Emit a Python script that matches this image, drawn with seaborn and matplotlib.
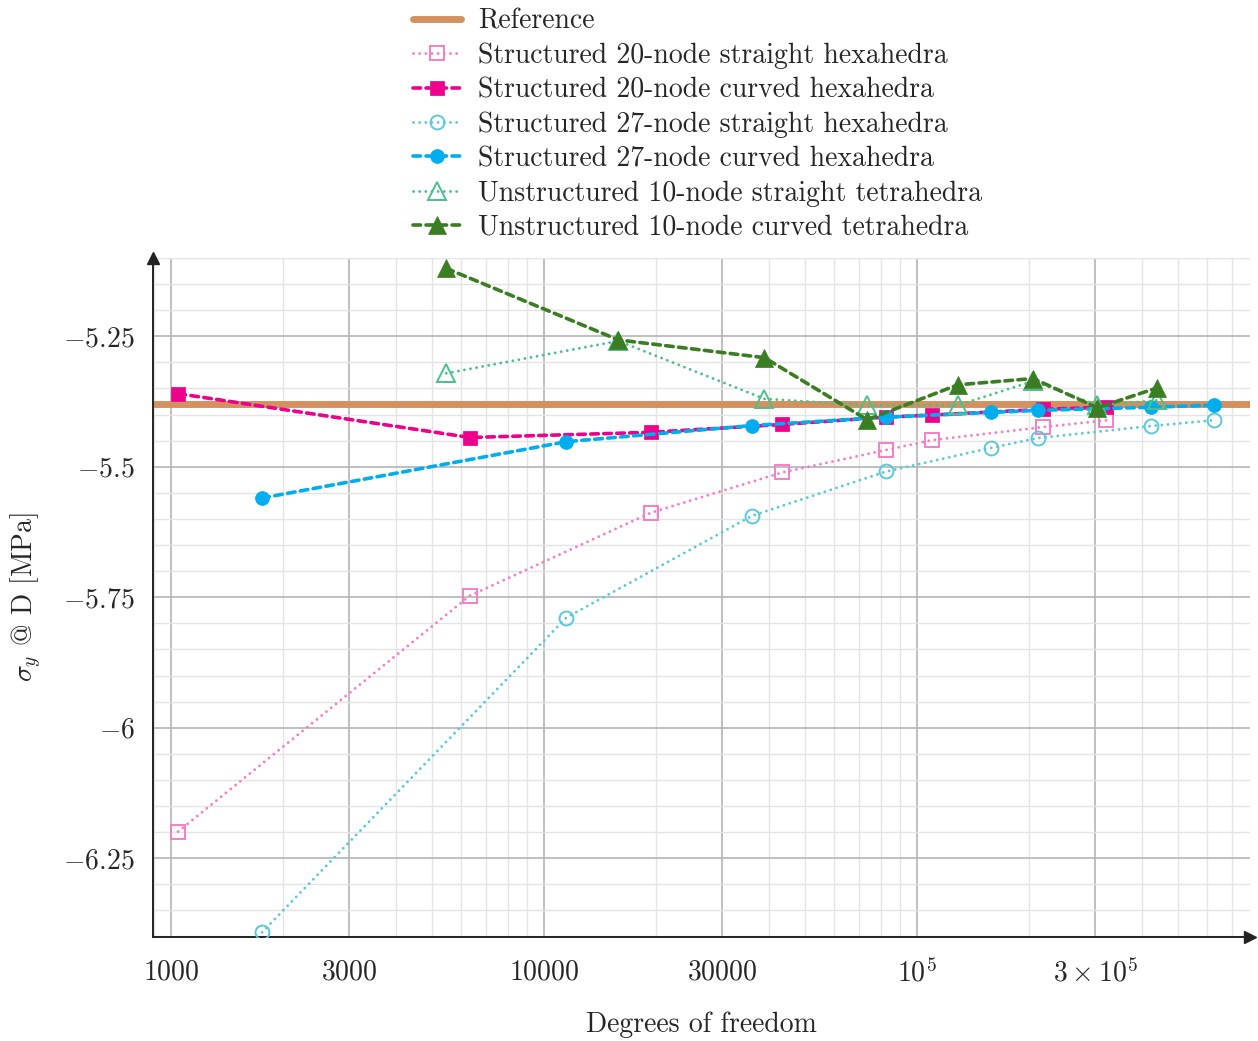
import numpy as np
import pandas as pd
import matplotlib
matplotlib.use("Agg")
import matplotlib.pyplot as plt
import matplotlib.ticker as mticker
import seaborn as sns

## Data
reference_value = -5.380

dof_hex20 = [1045, 6330, 19360, 43450, 82400, 109500, 217700, 321300]
hex20_straight = [-6.199, -5.747, -5.588, -5.511, -5.468, -5.449, -5.424, -5.411]
hex20_curved = [-5.360, -5.444, -5.434, -5.419, -5.405, -5.401, -5.390, -5.386]

dof_hex27 = [1754, 11480, 36100, 82700, 157700, 210700, 423300, 623000]
hex27_straight = [-6.392, -5.789, -5.594, -5.509, -5.464, -5.445, -5.422, -5.411]
hex27_curved = [-5.560, -5.452, -5.421, -5.405, -5.396, -5.392, -5.386, -5.382]

dof_tet10 = [5470, 15820, 38980, 73460, 128600, 204700, 304300, 439300]
tet10_straight = [-5.321, -5.259, -5.370, -5.382, -5.382, -5.336, -5.382, -5.373]
tet10_curved = [-5.120, -5.257, -5.291, -5.410, -5.343, -5.331, -5.387, -5.349]

labels = ["Reference",
          "Structured 20-node straight hexahedra",
          "Structured 20-node curved hexahedra",
          "Structured 27-node straight hexahedra",
          "Structured 27-node curved hexahedra",
          "Unstructured 10-node straight tetrahedra",
          "Unstructured 10-node curved tetrahedra"]

sns.set_style("white")
plt.rcParams['font.family'] = ['cmr10', 'DejaVu Serif']
plt.rcParams['mathtext.fontset'] = 'cm'
plt.rcParams['axes.unicode_minus'] = True
plt.rcParams['font.size'] = 20

fig = plt.figure(figsize=(12.58, 10.41), dpi=100)
ax = fig.add_axes([0.1216, 0.0999, 0.8720, 0.6523])

dotted = (0, (0.01, 2.1))
dashed = (0, (2.1, 1.5))

## Reference line
ax.axhline(reference_value, color="#D5905F", lw=5, zorder=2, label=labels[0])

series = [
    (dof_hex20, hex20_straight, labels[1], "#F57EC6", "s", False, dotted, 2.1),
    (dof_hex20, hex20_curved, labels[2], "#EC008C", "s", True, dashed, 2.6),
    (dof_hex27, hex27_straight, labels[3], "#5CC8DC", "o", False, dotted, 2.1),
    (dof_hex27, hex27_curved, labels[4], "#00AEEF", "o", True, dashed, 2.6),
    (dof_tet10, tet10_straight, labels[5], "#4CBF8C", "^", False, dotted, 2.1),
    (dof_tet10, tet10_curved, labels[6], "#3A7D22", "^", True, dashed, 2.6),
]

for x, y, lab, col, mk, filled, ls, lw in series:
    df = pd.DataFrame({"dof": x, "sigma": y})
    msize = 12.5 if mk == "^" else 10
    sns.lineplot(data=df, x="dof", y="sigma", ax=ax, label=lab, color=col,
                 linestyle=ls, lw=lw, marker=mk, markersize=msize,
                 markerfacecolor=col if filled else "none",
                 markeredgecolor=col, markeredgewidth=1.4 if not filled else 0.5,
                 dash_capstyle="round", zorder=3, sort=False)

ax.set_xscale("log")
ax.set_xlim(895, 7.8e5)
ax.set_ylim(-6.401, -5.10)

## Ticks
xmaj = [1000, 3000, 10000, 30000, 1e5, 3e5]
xmaj_labels = ["$1000$", "$3000$", "$10000$", "$30000$", r"$10^5$", r"$3\times10^5$"]
ax.xaxis.set_major_locator(mticker.FixedLocator(xmaj))
ax.xaxis.set_major_formatter(mticker.FixedFormatter(xmaj_labels))
ax.xaxis.set_minor_locator(mticker.LogLocator(base=10, subs=[2, 4, 5, 6, 7, 8, 9], numticks=20))
ax.xaxis.set_minor_formatter(mticker.NullFormatter())

ymaj = [-6.25, -6, -5.75, -5.5, -5.25]
ax.yaxis.set_major_locator(mticker.FixedLocator(ymaj))
ax.yaxis.set_major_formatter(mticker.FixedFormatter(["$-6.25$", "$-6$", "$-5.75$", "$-5.5$", "$-5.25$"]))
ax.yaxis.set_minor_locator(mticker.MultipleLocator(0.05))

ax.tick_params(which="major", direction="in", length=7, width=1.2, color="#333333", labelsize=20)
ax.tick_params(which="minor", direction="in", length=5, width=1.0, color="#333333")
ax.tick_params(axis="x", which="major", pad=16)
ax.tick_params(axis="y", which="major", pad=13)

ax.grid(which="major", color="#B4B4B4", lw=1.2, zorder=0)
ax.grid(which="minor", color="#E4E4E4", lw=1.0, zorder=0)
ax.set_axisbelow(True)

## Axis lines with arrows
for s in ["top", "right"]:
    ax.spines[s].set_visible(False)
for s in ["left", "bottom"]:
    ax.spines[s].set_color("#222222")
    ax.spines[s].set_linewidth(1.4)
ax.plot(1, 0, ">", color="#222222", ms=8, transform=ax.transAxes, clip_on=False)
ax.plot(0, 1, "^", color="#222222", ms=8, transform=ax.transAxes, clip_on=False)

ax.set_xlabel("Degrees of freedom", fontsize=20, labelpad=17)
ax.set_ylabel(r"$\sigma_y$ @ D [MPa]", fontsize=20, labelpad=14)

ax.get_legend().remove()
handles, labs = ax.get_legend_handles_labels()
fig.legend(handles, labs, loc="upper left", bbox_to_anchor=(0.326, 0.995),
           frameon=False, fontsize=20, handlelength=1.75, handletextpad=0.6,
           labelspacing=0.29, borderaxespad=0.0, borderpad=0.1)

plt.savefig("out.png", dpi=100)
